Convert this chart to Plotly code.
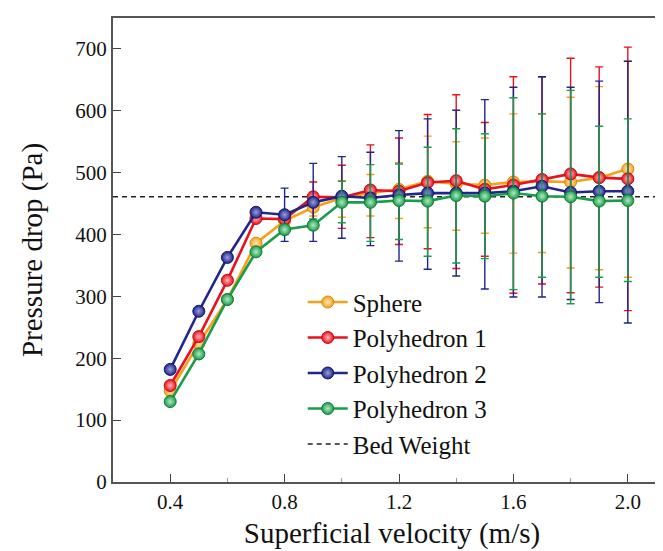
import plotly.graph_objects as go

# ---------------- data ----------------
velocity = [0.4, 0.5, 0.6, 0.7, 0.8, 0.9, 1.0, 1.1, 1.2, 1.3, 1.4, 1.5, 1.6, 1.7, 1.8, 1.9, 2.0]

sphere = [147, 224, 295, 386, 422, 444, 459, 467, 473, 486, 482, 480, 485, 486, 485, 492, 506]
poly1 = [156, 235, 326, 426, 425, 461, 460, 472, 470, 484, 487, 473, 480, 489, 498, 492, 490]
poly2 = [182, 276, 363, 436, 432, 452, 462, 459, 464, 467, 467, 467, 470, 478, 468, 470, 470]
poly3 = [130, 207, 295, 372, 408, 415, 452, 452, 455, 454, 463, 462, 467, 462, 461, 454, 455]

# upper / lower ends of the error bars (None = no bar)
sphere_hi = [None, None, None, None, 430, 460, 487, 497, 516, 559, 550, 556, 595, 595, 622, 639, 680]
sphere_lo = [None, None, None, None, 414, 430, 428, 430, 426, 411, 407, 402, 370, 371, 346, 343, 331]
poly1_hi = [None, None, None, None, 432, 485, 512, 545, 556, 594, 626, 581, 655, 655, 685, 671, 703]
poly1_lo = [None, None, None, None, 418, 419, 410, 395, 384, 377, 345, 365, 305, 320, 306, 315, 277]
poly2_hi = [None, None, None, None, 475, 515, 526, 533, 568, 587, 601, 618, 638, 655, 638, 648, 680]
poly2_lo = [None, None, None, None, 389, 389, 394, 382, 357, 344, 333, 312, 299, 299, 295, 290, 257]
poly3_hi = [None, None, None, None, 416, 425, 486, 513, 514, 541, 571, 563, 621, 595, 633, 575, 587]
poly3_lo = [None, None, None, None, 400, 409, 419, 389, 392, 365, 354, 361, 311, 331, 288, 331, 324]

bed_weight = 461
bed_x = [0.2, 2.2]

names = ["Sphere", "Polyhedron 1", "Polyhedron 2", "Polyhedron 3"]
colors = ["#F5A11C", "#E8121F", "#20268A", "#1A9C4A"]
edge_colors = ["#D98A0C", "#C20A14", "#12165C", "#117A36"]
light_colors = ["#FFE6B8", "#FFB8B8", "#9A9EE0", "#B0EAC4"]

FONT = "Liberation Serif"


def plus(v, hi):
    return [None if h is None else h - a for a, h in zip(v, hi)]


def minus(v, lo):
    return [None if l is None else a - l for a, l in zip(v, lo)]


fig = go.Figure()

fig.add_trace(go.Scatter(
    x=bed_x, y=[bed_weight, bed_weight], mode="lines", name="Bed Weight",
    line=dict(color="#222222", width=1.6, dash="5px,4px"), legendrank=5,
))

all_vals = [sphere, poly1, poly2, poly3]
all_hi = [sphere_hi, poly1_hi, poly2_hi, poly3_hi]
all_lo = [sphere_lo, poly1_lo, poly2_lo, poly3_lo]

for i in range(4):
    v = all_vals[i]
    fig.add_trace(go.Scatter(
        x=velocity, y=v, mode="lines+markers", name=names[i], legendrank=i + 1,
        line=dict(color=colors[i], width=2.6),
        marker=dict(size=12, color=colors[i],
                    line=dict(color=edge_colors[i], width=1),
                    gradient=dict(type="radial", color=light_colors[i])),
        error_y=dict(type="data", symmetric=False,
                     array=plus(v, all_hi[i]), arrayminus=minus(v, all_lo[i]),
                     color=colors[i], thickness=1.4, width=4),
    ))

fig.update_layout(
    width=663, height=551,
    margin=dict(l=105, r=0, t=10, b=77),
    paper_bgcolor="white", plot_bgcolor="white",
    font=dict(family=FONT, color="#111111", size=21),
    showlegend=True,
    legend=dict(x=0.34, y=0.437, xanchor="left", yanchor="top",
                bgcolor="rgba(0,0,0,0)", font=dict(size=25, family=FONT),
                tracegroupgap=0, itemwidth=40),
)

fig.update_xaxes(
    range=[0.2, 2.151], tickvals=[0.4, 0.8, 1.2, 1.6, 2.0],
    ticktext=["0.4", "0.8", "1.2", "1.6", "2.0"],
    ticks="inside", ticklen=8, tickwidth=1.3, tickcolor="#444444",
    minor=dict(dtick=0.2, ticks="inside", ticklen=4, tickcolor="#999999"),
    showline=True, linecolor="#555555", linewidth=2, mirror=True,
    showgrid=False, zeroline=False, automargin=False,
    title=dict(text="Superficial velocity (m/s)", font=dict(size=29, family=FONT), standoff=9),
    tickfont=dict(size=21, family=FONT),
)
fig.update_yaxes(
    range=[0, 750], tickvals=[0, 100, 200, 300, 400, 500, 600, 700],
    ticks="inside", ticklen=8, tickwidth=1.3, tickcolor="#444444",
    showline=True, linecolor="#555555", linewidth=2,
    showgrid=False, zeroline=False, automargin=False,
    title=dict(text="Pressure drop (Pa)", font=dict(size=29, family=FONT), standoff=24),
    tickfont=dict(size=21, family=FONT),
)

fig.write_html("out.html")
